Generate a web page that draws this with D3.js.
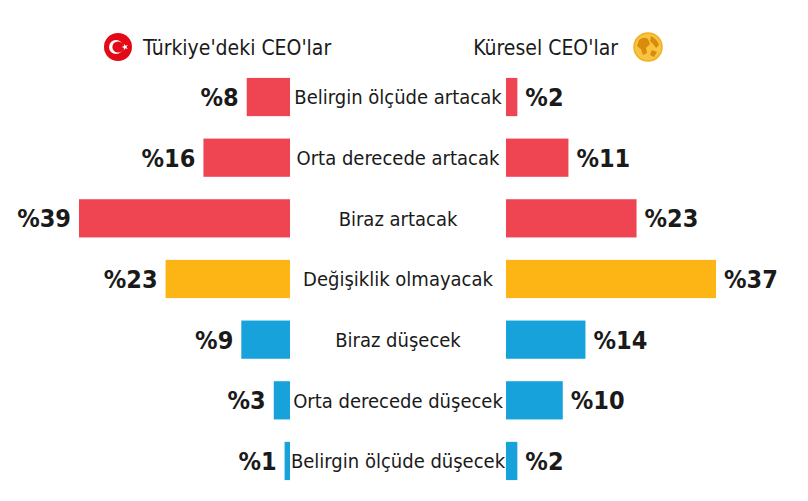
<!DOCTYPE html>
<html><head><meta charset="utf-8">
<script src="https://cdn.jsdelivr.net/npm/d3@7"></script>
<style>body{margin:0;background:#fff}svg{font-family:"Liberation Sans Narrow","DejaVu Sans Condensed",sans-serif}</style>
</head><body><svg id="c" width="808" height="501"></svg>
<script>
const categories = ["Belirgin ölçüde artacak","Orta derecede artacak","Biraz artacak","Değişiklik olmayacak","Biraz düşecek","Orta derecede düşecek","Belirgin ölçüde düşecek"];
const turkeyValues = [8,16,39,23,9,3,1];
const globalValues = [2,11,23,37,14,10,2];
const groups = ["up","up","up","same","down","down","down"];
const colors = {up:"#EF4452", same:"#FDB515", down:"#17A2DB"};
const titles = ["Türkiye'deki CEO'lar","Küresel CEO'lar"];

const svg = d3.select("#c");
const y = d3.scaleBand().domain(categories).range([67,491]).paddingInner(0.37).paddingOuter(0.18);
const xL = d3.scaleLinear().domain([0,39]).range([290,79]);
const xR = d3.scaleLinear().domain([0,37]).range([506,716]);

categories.forEach((c,i)=>{
  const yy = y(c), h = y.bandwidth(), col = colors[groups[i]];
  svg.append("rect").attr("x",xL(turkeyValues[i])).attr("y",yy).attr("width",xL(0)-xL(turkeyValues[i])).attr("height",h).attr("fill",col);
  svg.append("rect").attr("x",xR(0)).attr("y",yy).attr("width",xR(globalValues[i])-xR(0)).attr("height",h).attr("fill",col);
  svg.append("text").attr("x",xL(turkeyValues[i])-8).attr("y",yy+h/2).attr("dy","0.36em").attr("text-anchor","end")
    .attr("font-size",25).attr("font-weight","bold").attr("fill","#1a1a1a").text("%"+turkeyValues[i]);
  svg.append("text").attr("x",xR(globalValues[i])+8).attr("y",yy+h/2).attr("dy","0.36em")
    .attr("font-size",25).attr("font-weight","bold").attr("fill","#1a1a1a").text("%"+globalValues[i]);
  svg.append("text").attr("x",398).attr("y",yy+h/2).attr("dy","0.36em").attr("text-anchor","middle")
    .attr("font-size",20).attr("fill","#1a1a1a").text(c);
});

// headers
svg.append("text").attr("x",143).attr("y",47).attr("dy","0.36em").attr("font-size",21).attr("fill","#1a1a1a").text(titles[0]);
svg.append("text").attr("x",618).attr("y",47).attr("dy","0.36em").attr("text-anchor","end").attr("font-size",21).attr("fill","#1a1a1a").text(titles[1]);
// Turkish flag icon
const f = svg.append("g").attr("transform","translate(118,47)");
f.append("circle").attr("r",14).attr("fill","#E30A17");
f.append("circle").attr("cx",-2).attr("r",7).attr("fill","#fff");
f.append("circle").attr("cx",0).attr("r",5.6).attr("fill","#E30A17");
f.append("path").attr("d",d3.symbol(d3.symbolStar,14)()).attr("transform","translate(7,0) rotate(-18)").attr("fill","#fff");
// globe icon
const g = svg.append("g").attr("transform","translate(648,47)");
g.append("circle").attr("r",14).attr("fill","#F7C340").attr("stroke","#F0B020").attr("stroke-width",1.5);
g.append("path").attr("d","M-9,-7 Q-4,-11 0,-8 L2,-3 L-2,1 L-1,6 L-5,8 L-7,2 L-11,-1 Z").attr("fill","#D98C0A");
g.append("path").attr("d","M3,-11 Q9,-8 11,-2 L8,1 L5,-3 L2,-6 Z").attr("fill","#D98C0A");
g.append("path").attr("d","M4,3 L9,5 L6,10 L2,8 Z").attr("fill","#D98C0A");
</script></body></html>
